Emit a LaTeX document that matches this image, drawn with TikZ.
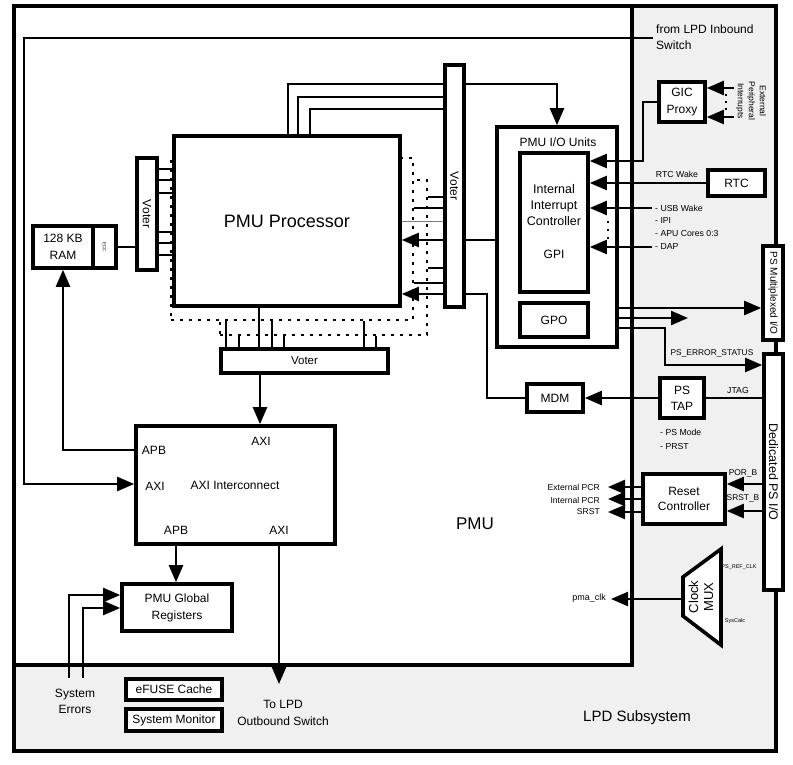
\documentclass[tikz,border=0pt]{standalone}
\usepackage{fontspec}
\setmainfont{Liberation Sans}
\usetikzlibrary{arrows.meta}
\definecolor{lpdgray}{HTML}{F0F0F0}
\tikzset{
 box/.style={draw, line width=3.6pt, fill=white, inner sep=0pt, align=center, font=\fontsize{12}{17}\selectfont},
 shadowbox/.style={draw, line width=2.7pt, dash pattern=on 2.7pt off 6.3pt, fill=white, inner sep=0pt},
 conn/.style={line width=2.4pt},
 arr/.style={conn, -{Triangle[length=17pt 0 0,width=14pt 0 0]}},
 txt/.style={inner sep=0pt, align=center, font=\fontsize{12}{17}\selectfont},
 small/.style={inner sep=0pt, align=left, font=\fontsize{8.7}{12.7}\selectfont},
 tiny/.style={inner sep=0pt, font=\fontsize{5.5}{6}\selectfont},
}
\begin{document}
\begin{tikzpicture}[x=1pt,y=-1pt]
\useasboundingbox (0,0) rectangle (793,765);
% regions
\fill[lpdgray] (14,6) rectangle (776,751);
\fill[white] (14,6) rectangle (632,665);
\draw[line width=4.2pt] (14,6) rectangle (776,751);
\draw[line width=4.2pt] (632,6) -- (632,665) -- (14,665);

% processor and shadows
\node[shadowbox, minimum width=207pt, minimum height=155pt] (sh2) at (323.5,257.5) {};
\node[shadowbox, minimum width=242pt, minimum height=162pt] (sh1) at (292,239) {};
\node[box, minimum width=226pt, minimum height=170pt, font=\fontsize{18}{20}\selectfont] (proc) at (287,221) {PMU Processor};

% voters, RAM
\node[box, minimum width=20pt, minimum height=112pt] (voterL) at (147,214) {};
\node[txt, rotate=-90] (voterLt) at (voterL.center) {Voter};
\node[box, minimum width=60pt, minimum height=42pt] (ram) at (63,247) {128 KB\\RAM};
\node[box, minimum width=23pt, minimum height=42pt] (ecc) at (104.5,247) {};
\node[tiny, rotate=-90, font=\fontsize{4.5}{5}\selectfont] (ecct) at (ecc.center) {ECC};
\node[box, minimum width=19pt, minimum height=242pt] (voterR) at (454.5,186) {};
\node[txt, rotate=-90] (voterRt) at (voterR.center) {Voter};
\node[box, minimum width=167pt, minimum height=24pt, font=\fontsize{11.5}{13}\selectfont] (voterB) at (304.5,361) {Voter};

% AXI interconnect
\node[box, minimum width=199pt, minimum height=118pt] (axi) at (235.5,485) {};
\node[txt] (axit) at (235,485) {AXI Interconnect};
\node[txt] (axiin1) at (261,441) {AXI};
\node[txt] (apbin) at (154,450) {APB};
\node[txt] (axiin2) at (155,486) {AXI};
\node[txt] (apbout) at (176,530) {APB};
\node[txt] (axiout) at (279,530) {AXI};
\node[box, minimum width=110pt, minimum height=47pt] (greg) at (177,607.5) {PMU Global\\Registers};
\node[box, line width=3.2pt, minimum width=96pt, minimum height=21pt] (efuse) at (174,689.5) {eFUSE Cache};
\node[box, line width=3.2pt, minimum width=96pt, minimum height=22pt] (sysmon) at (174,720) {System Monitor};

% PMU I/O units
\node[box, minimum width=120pt, minimum height=220pt] (iou) at (557,237) {};
\node[txt] (iout) at (558,142) {PMU I/O Units};
\node[box, minimum width=68pt, minimum height=139pt] (iic) at (554,222.5) {};
\node[txt, font=\fontsize{12.5}{16}\selectfont] (iict) at (554,205) {Internal\\Interrupt\\Controller};
\node[txt] (gpit) at (554,254) {GPI};
\node[box, minimum width=68pt, minimum height=34pt] (gpo) at (554,320) {GPO};

% right side
\node[box, minimum width=46pt, minimum height=40pt] (gic) at (682,102) {GIC\\Proxy};
\node[box, minimum width=57pt, minimum height=26pt] (rtc) at (736.5,183) {RTC};
\node[box, minimum width=20pt, minimum height=94pt] (psmux) at (773,293) {};
\node[txt, rotate=-90, font=\fontsize{10}{12}\selectfont] (psmuxt) at (psmux.center) {PS Multiplexed I/O};
\node[box, minimum width=19pt, minimum height=236pt] (dedio) at (773.5,472) {};
\node[txt, rotate=-90, font=\fontsize{12.5}{14}\selectfont] (dediot) at (dedio.center) {Dedicated PS I/O};
\node[box, minimum width=44pt, minimum height=40pt, font=\fontsize{12}{16}\selectfont] (pstap) at (682,398) {PS\\TAP};
\node[box, minimum width=56pt, minimum height=28pt] (mdm) at (555,398) {MDM};
\node[box, minimum width=82pt, minimum height=50pt, font=\fontsize{12}{15.5}\selectfont] (reset) at (684,499) {Reset\\Controller};
\draw[line width=3.6pt, fill=white, line join=miter] (683,577) -- (721,549) -- (721,645) -- (683,616) -- cycle;
\node[txt, rotate=90, font=\fontsize{13}{15}\selectfont] (mux) at (701,597) {Clock\\MUX};
\coordinate (muxw) at (683,599);

% text labels
\node[txt, anchor=west, align=left, font=\fontsize{12}{16}\selectfont] (inbt) at (656,37.5) {from LPD Inbound\\Switch};
\node[small] (rtcw) at (677,174) {RTC Wake};
\node[small, anchor=west] (irqs) at (655,227) {- USB Wake\\- IPI\\- APU Cores 0:3\\- DAP};
\node[small, font=\fontsize{8.4}{10}\selectfont] (pserr) at (712,353) {PS\_ERROR\_STATUS};
\node[small] (jtag) at (738,391) {JTAG};
\node[small, anchor=west, font=\fontsize{8.7}{14}\selectfont] (psmode) at (660,439) {- PS Mode\\- PRST};
\node[small, font=\fontsize{8.4}{10}\selectfont] (porb) at (743,473) {POR\_B};
\node[small, font=\fontsize{8.4}{10}\selectfont] (srstb) at (743,498) {SRST\_B};
\node[small, anchor=east, font=\fontsize{8.6}{10}\selectfont] (epcrt) at (600,487) {External PCR};
\node[small, anchor=east, font=\fontsize{8.6}{10}\selectfont] (ipcrt) at (600,500) {Internal PCR};
\node[small, anchor=east, font=\fontsize{8.6}{10}\selectfont] (srstt) at (600,512) {SRST};
\node[small, anchor=east, font=\fontsize{9}{10}\selectfont] (pmat) at (606,598) {pma\_clk};
\node[tiny] (psref) at (739,567) {PS\_REF\_CLK};
\node[tiny] (syscalc) at (735,621) {SysCalc};
\node[txt, rotate=-90, font=\fontsize{8.5}{11}\selectfont] (extint) at (751,101) {External\\Peripheral\\Interrupts};
\node[txt, font=\fontsize{17}{20}\selectfont] (pmut) at (475,524) {PMU};
\node[txt, font=\fontsize{15}{18}\selectfont] (lpdt) at (637,718) {LPD Subsystem};
\node[txt] (tolpdt) at (283,712.5) {To LPD\\Outbound Switch};
\node[txt, font=\fontsize{12}{16}\selectfont] (syserr) at (75,701) {System\\Errors};

% connectors
\coordinate (inb) at (653,38);
\draw[arr] (inb) -- (24,38) |- (axi.west |- 0,484);
\draw[arr] (axi.west |- 0,450) -| (ram.south);
\draw[conn] (ecc.east) -- (voterL.west |- ecc.east);
\foreach \y in {169,180,193,232,243,255} \draw[conn] (voterL.east |- 0,\y) -- (proc.west |- 0,\y);
\draw[conn] (proc.north -| 288,0) |- (voterR.west |- 0,84);
\draw[conn] (proc.north -| 298,0) |- (voterR.west |- 0,97);
\draw[conn] (proc.north -| 310,0) |- (voterR.west |- 0,109);
\draw[arr] (voterR.east |- 0,84) -| (iou.north);
\foreach \y in {197,268} \draw[conn] (voterR.west |- 0,\y) -- (sh2.east |- 0,\y);
\foreach \y in {208,283} \draw[conn] (voterR.west |- 0,\y) -- (sh1.east |- 0,\y);
\draw[line width=0.8pt, gray] (voterR.west |- 0,221) -- (proc.east |- 0,221);
\foreach \y in {240,294} \draw[arr] (voterR.west |- 0,\y) -- (proc.east |- 0,\y);
\draw[conn] (iou.west |- 0,240) -- (voterR.east |- 0,240);
\draw[conn] (mdm.west) -| (487,294) -- (voterR.east |- 0,294);
\draw[conn] (proc.south -| 259,0) -- (voterB.north -| 259,0);
\foreach \x in {226,272,364} \draw[conn] (sh1.south -| \x,0) -- (voterB.north -| \x,0);
\foreach \x in {239,284,376} \draw[conn] (sh2.south -| \x,0) -- (voterB.north -| \x,0);
\draw[arr] (voterB.south -| 260,0) -- (axi.north -| 260,0);
\draw[arr] (axi.south -| 176,0) -- (greg.north -| 176,0);
\coordinate (tolpd) at (279,684);
\draw[arr] (axi.south -| 279,0) -- (tolpd);
\coordinate (se1) at (69,678);
\coordinate (se2) at (83,678);
\draw[arr] (se1) |- (greg.west |- 0,595);
\draw[arr] (se2) |- (greg.west |- 0,608);

\draw[arr] (gic.west) -| (643,161) -- (iic.east |- 0,161);
\draw[arr] (rtc.west) -- (iic.east |- rtc.west);
\coordinate (usbw) at (652,208);
\coordinate (dap) at (652,247);
\draw[arr] (usbw) -- (iic.east |- usbw);
\draw[arr] (dap) -- (iic.east |- dap);
\foreach \y in {222,230,238} \fill (606.8,\y-1.2) rectangle ++(2.5,2.5);
\coordinate (gpo1) at (688,318);
\draw[arr] (iou.east |- 0,308) -- (psmux.west |- 0,308);
\draw[arr] (iou.east |- 0,318) -- (gpo1);
\draw[arr] (iou.east |- 0,328) -| (665,365) -- (dedio.west |- 0,365);
\draw[conn] (dedio.west |- pstap.east) -- (pstap.east);
\draw[arr] (pstap.west) -- (mdm.east);
\draw[arr] (dedio.west |- 0,484) -- (reset.east |- 0,484);
\draw[arr] (dedio.west |- 0,511) -- (reset.east |- 0,511);
\foreach \y/\n in {487/epcr,499/ipcr,512/srst} {\coordinate (\n) at (608,\y); \draw[arr] (reset.west |- 0,\y) -- (\n);}
\coordinate (pmaclk) at (611,599);
\draw[arr] (muxw) -- (pmaclk);
\coordinate (ext1) at (734,88);
\coordinate (ext2) at (734,117);
\draw[arr] (ext1) -- (gic.east |- ext1);
\draw[arr] (ext2) -- (gic.east |- ext2);
\foreach \y in {95,102,109} \fill (724.8,\y-1.2) rectangle ++(2.5,2.5);
\end{tikzpicture}
\end{document}
